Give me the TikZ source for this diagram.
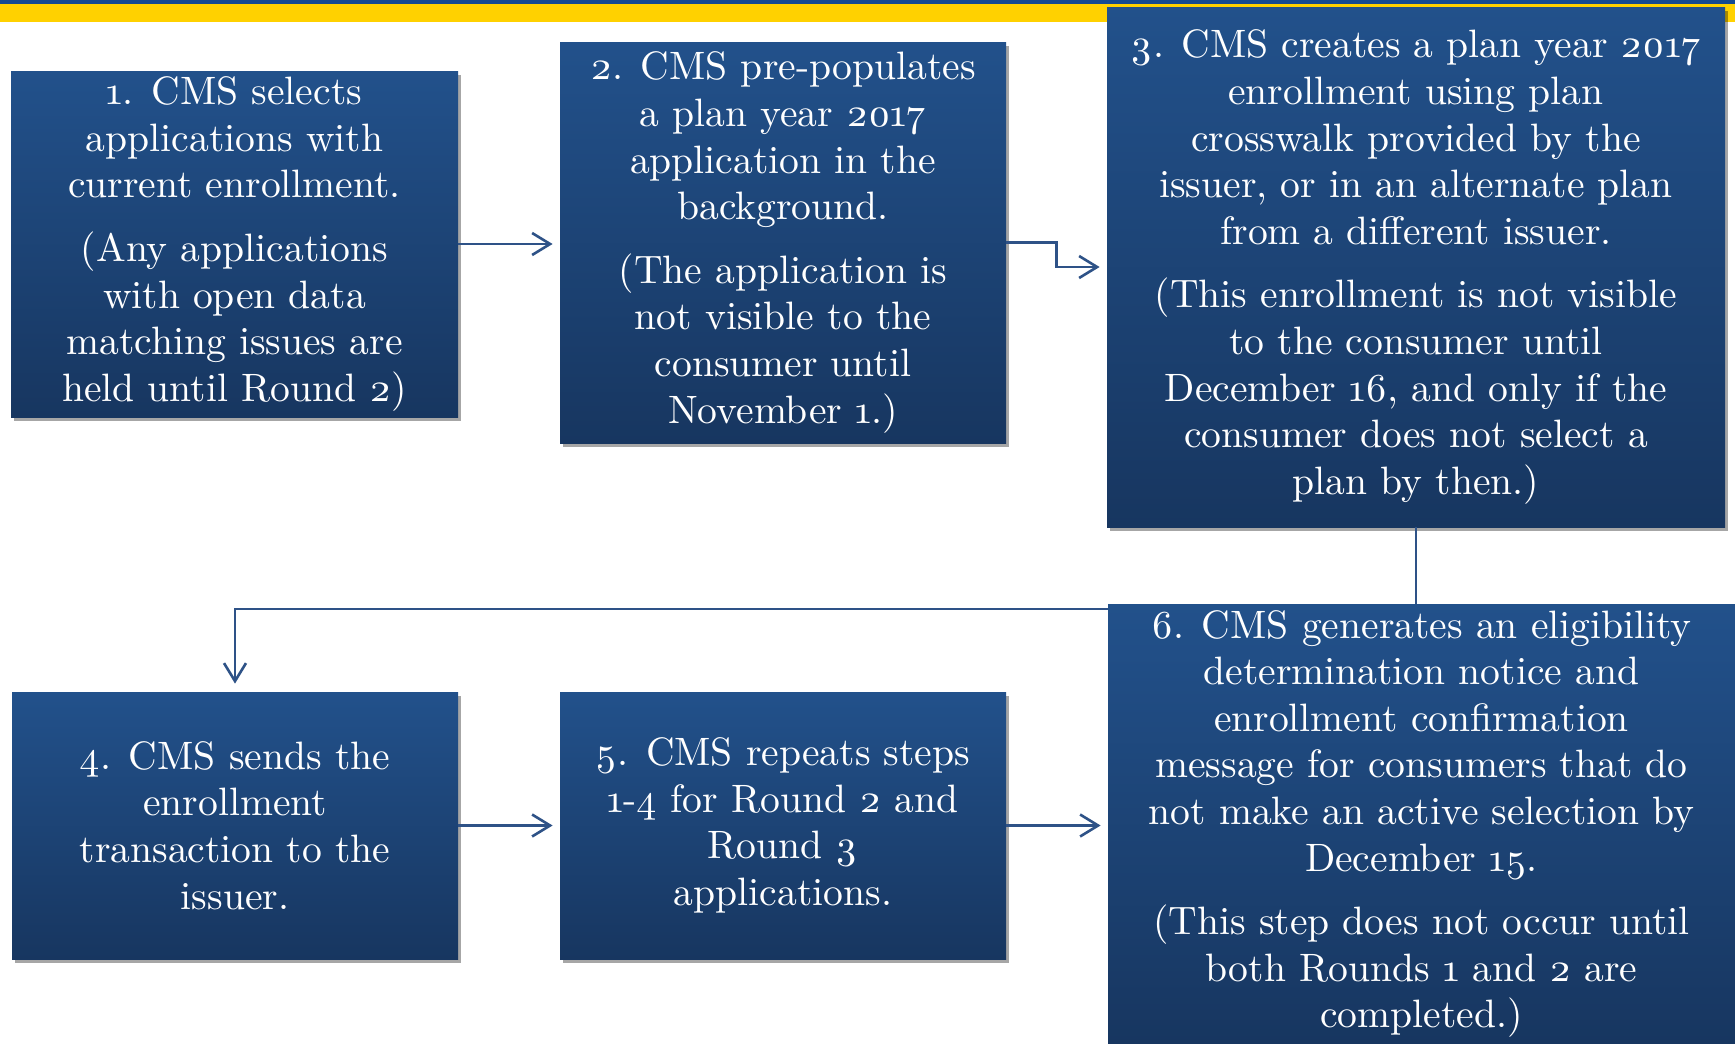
\documentclass[tikz,border=0pt]{standalone}
\usepackage{fontspec}
\setmainfont{lmroman10-regular}[Extension=.otf, Numbers=OldStyle]
\usetikzlibrary{arrows.meta,shadows,calc}
\definecolor{boxtop}{HTML}{22518B}
\definecolor{boxbot}{HTML}{173660}
\definecolor{arrowc}{HTML}{2E5287}
\definecolor{bandblue}{HTML}{144A92}
\definecolor{bandyellow}{HTML}{FFD100}
\tikzset{
  stepbox/.style={rectangle, inner sep=0pt, top color=boxtop, bottom color=boxbot,
    draw=none, text=white, align=center,
    font=\fontsize{19.8}{23.3}\selectfont,
    drop shadow={shadow xshift=1.5pt, shadow yshift=-1.8pt, opacity=0.35, fill=black}},
  flow/.style={draw=arrowc, line width=1.3pt,
    -{Straight Barb[length=9pt,width=11pt,line width=1.3pt]}, shorten >=3.5pt}
}
\newcommand{\pgap}{\\[8.5pt]}
\begin{document}
\begin{tikzpicture}[x=0.5pt,y=-0.5pt]
\useasboundingbox (0,0) rectangle (1735,1044);
\fill[white] (0,0) rectangle (1735,1044);
\fill[bandblue] (0,0) rectangle (1735,3.5);
\fill[bandyellow] (0,3.5) rectangle (1735,22);

\node[stepbox, minimum width=223.5pt, minimum height=173pt] (b1) at (234.5,244)
 {1. CMS selects\\ applications with\\ current enrollment.\pgap
  (Any applications\\ with open data\\ matching issues are\\ held until Round 2)};
\node[stepbox, minimum width=223pt, minimum height=200.5pt] (b2) at (783,242.5)
 {2. CMS pre-populates\\ a plan year 2017\\ application in the\\ background.\pgap
  (The application is\\ not visible to the\\ consumer until\\ November 1.)};
\node[stepbox, minimum width=309pt, minimum height=260pt] (b3) at (1416,267)
 {3. CMS creates a plan year 2017\\ enrollment using plan\\ crosswalk provided by the\\ issuer, or in an alternate plan\\ from a different issuer.\pgap
  (This enrollment is not visible\\ to the consumer until\\ December 16, and only if the\\ consumer does not select a\\ plan by then.)};
\node[stepbox, minimum width=223pt, minimum height=133.5pt] (b4) at (235,825.5)
 {4. CMS sends the\\ enrollment\\ transaction to the\\ issuer.};
\node[stepbox, minimum width=223pt, minimum height=133.5pt] (b5) at (783,825.5)
 {5. CMS repeats steps\\ 1-4 for Round 2 and\\ Round 3\\ applications.};

\coordinate (j) at (1416,609);
\draw[flow, shorten >=4pt] (b3.south) -- (b3.south |- j) -| (b4.north);

\node[stepbox, minimum width=313.5pt, minimum height=220pt] (b6) at (1421.5,824)
 {6. CMS generates an eligibility\\ determination notice and\\ enrollment confirmation\\ message for consumers that do\\ not make an active selection by\\ December 15.\pgap
  (This step does not occur until\\ both Rounds 1 and 2 are\\ completed.)};

\draw[flow] (b1.east) -- (b1.east -| b2.west);
\draw[flow] (b2.east) -- ++(50,0) |- (b3.west);
\draw[flow] (b4.east) -- (b4.east -| b5.west);
\draw[flow] (b5.east) -- (b5.east -| b6.west);
\end{tikzpicture}
\end{document}
